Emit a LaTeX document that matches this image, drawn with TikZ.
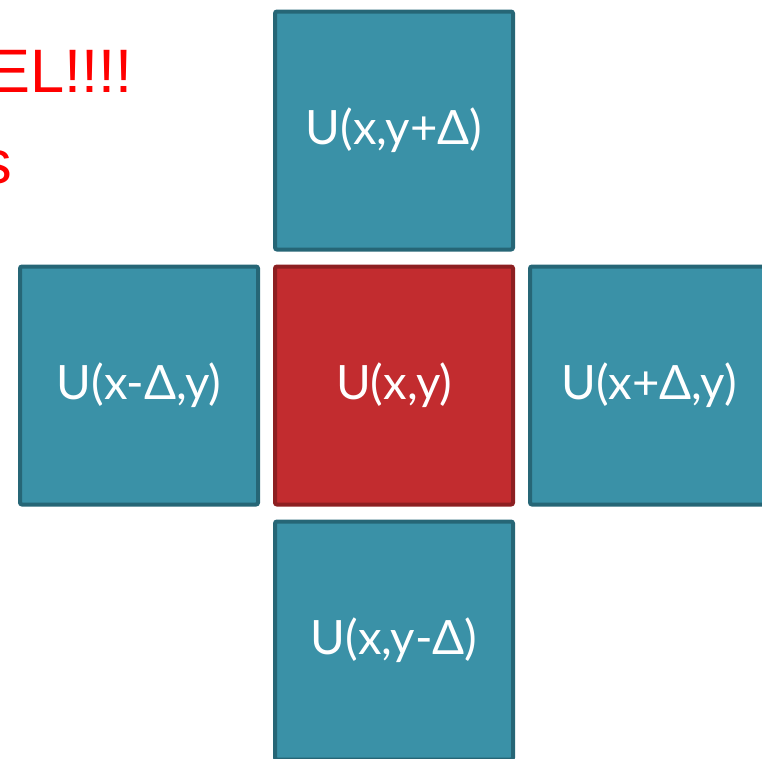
\documentclass[tikz,border=0pt]{standalone}
\usepackage{fontspec}
\setmainfont{Lato}
\newfontfamily\redfont{Liberation Sans}
\usetikzlibrary{positioning}
\definecolor{tealfill}{HTML}{3A91A7}
\definecolor{tealline}{HTML}{266676}
\definecolor{redfill}{HTML}{C22C2F}
\definecolor{redline}{HTML}{8D1F21}
\tikzset{
  cell/.style ={draw=tealline,fill=tealfill,line width=3pt,rounded corners=1.5pt,
                minimum size=178.5pt,inner sep=0pt,text=white,
                font=\fontsize{35.5}{42}\selectfont},
  hot/.style  ={cell,draw=redline,fill=redfill},
  shout/.style={text=red,inner sep=0pt,font=\redfont\fontsize{46}{52}\selectfont},
}

\begin{document}
\begin{tikzpicture}[x=0.75pt,y=-0.75pt,node distance=9.75pt]
\useasboundingbox (0,0) rectangle (762,758);
\clip (0,0) rectangle (762,758);
% red slide text, cut at the left
\node[shout,anchor=base east] (bang) at (133,92) {EL!!!!};
\node[shout,anchor=base east] (tail) at (12,183) {s};
% the five cells
\node[hot] (mid) at (394,385.5) {U(x,y)};
\node[cell,above=of mid] (up) {U(x,y+Δ)};
\node[cell,left=of mid] (lft) {U(x-Δ,y)};
\node[cell,right=of mid] (rgt) {U(x+Δ,y)};
\node[cell,below=of mid] (dn) {U(x,y-Δ)};
\end{tikzpicture}
\end{document}
